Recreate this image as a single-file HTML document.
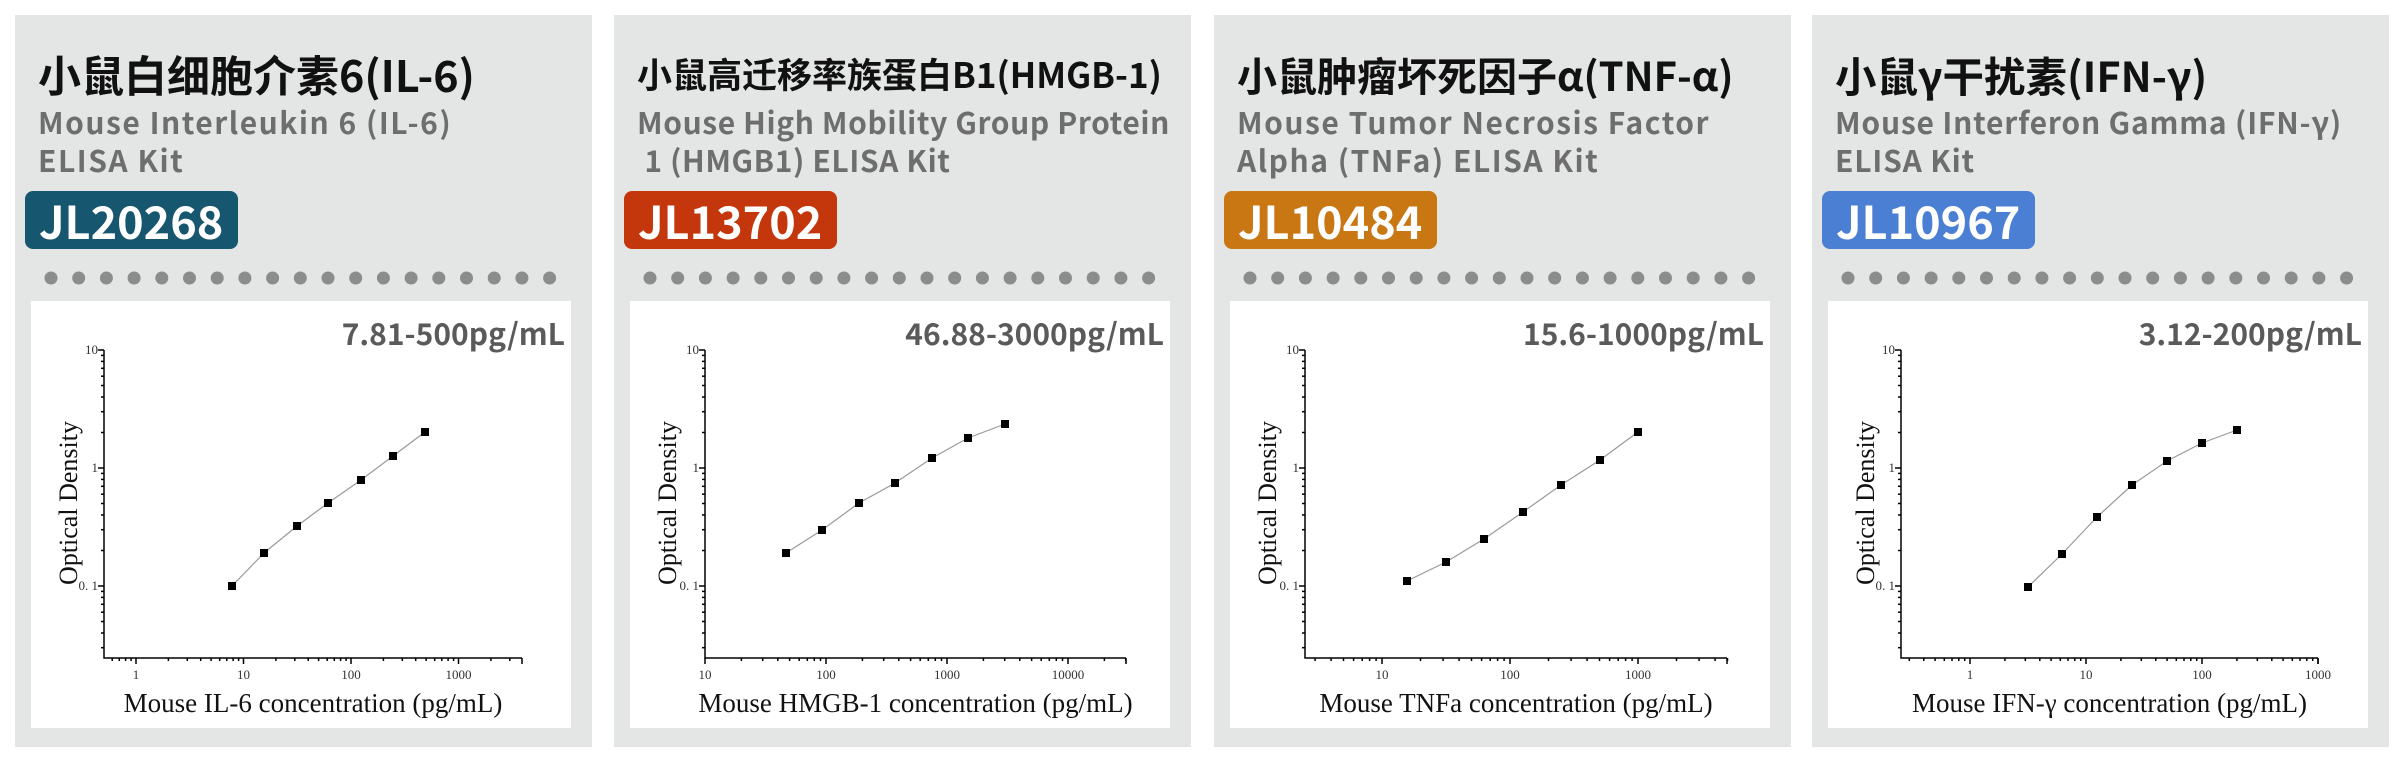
<!DOCTYPE html>
<html><head><meta charset="utf-8"><style>
body{margin:0;width:2400px;height:766px;background:#fff;position:relative;overflow:hidden;font-family:"Liberation Sans","Noto Sans CJK SC",sans-serif}
.card{position:absolute;top:15px;width:577px;height:732px;background:#e3e6e5}
.t{position:absolute;left:23px;top:40px;font-weight:bold;color:#111;white-space:nowrap;font-family:"Noto Sans CJK SC","Liberation Sans",sans-serif}
.s{position:absolute;left:23px;top:87px;font-weight:bold;color:#6e6e6e;font-size:30px;line-height:38px;white-space:pre;font-family:"Noto Sans CJK SC","Liberation Sans",sans-serif;letter-spacing:1.5px}
.b{position:absolute;left:10px;top:176px;width:213px;height:58px;border-radius:8px;color:#fff;font-weight:bold;font-size:45px;line-height:58px;padding-left:14px;box-sizing:border-box;font-family:"Noto Sans CJK SC","Liberation Sans",sans-serif}
svg{position:absolute;left:0;top:0}
</style></head><body>
<div class="card" style="left:15px"><div class="t" style="font-size:43px;top:28px">小鼠白细胞介素6(IL-6)</div><div class="s">Mouse Interleukin 6 (IL-6)
ELISA Kit</div><div class="b" style="background:#17566f">JL20268</div></div>
<div class="card" style="left:614px"><div class="t" style="font-size:35px;top:33px">小鼠高迁移率族蛋白B1(HMGB-1)</div><div class="s" style="letter-spacing:0.6px">Mouse High Mobility Group Protein
 1 (HMGB1) ELISA Kit</div><div class="b" style="background:#c4370c">JL13702</div></div>
<div class="card" style="left:1214px"><div class="t" style="font-size:40px;top:30px">小鼠肿瘤坏死因子α(TNF-α)</div><div class="s">Mouse Tumor Necrosis Factor
Alpha (TNFa) ELISA Kit</div><div class="b" style="background:#c97712">JL10484</div></div>
<div class="card" style="left:1812px"><div class="t" style="font-size:41.5px;top:29px">小鼠γ干扰素(IFN-γ)</div><div class="s" style="letter-spacing:0.8px">Mouse Interferon Gamma (IFN-γ)
ELISA Kit</div><div class="b" style="background:#4b7fd3">JL10967</div></div>
<script>
var P=[
{r:"7.81-500pg/mL",lab:"Mouse IL-6 concentration (pg/mL)",x0:89,x1:507,dec0:0,dpx:121,dw:107.5,ticks:[1,10,100,1000],
 px:[217,249,282,313,346,378,410],py:[586,553,526,503,480,456,432]},
{r:"46.88-3000pg/mL",lab:"Mouse HMGB-1 concentration (pg/mL)",x0:91,x1:512,dec0:1,dpx:91,dw:121,ticks:[10,100,1000,10000],
 px:[172,208,245,281,318,354,391],py:[553,530,503,483,458,438,424]},
{r:"15.6-1000pg/mL",lab:"Mouse TNFa concentration (pg/mL)",x0:91,x1:513,dec0:1,dpx:168,dw:128,ticks:[10,100,1000],
 px:[193,232,270,309,347,386,424],py:[581,562,539,512,485,460,432]},
{r:"3.12-200pg/mL",lab:"Mouse IFN-γ concentration (pg/mL)",x0:89,x1:506,dec0:0,dpx:158,dw:116,ticks:[1,10,100,1000],
 px:[216,250,285,320,355,390,425],py:[587,554,517,485,461,443,430]}];
var cards=document.querySelectorAll('.card');
P.forEach(function(p,i){
 var s='<svg width="577" height="732" xmlns="http://www.w3.org/2000/svg">';
 for(var k=0;k<19;k++)s+='<circle cx="'+(36+k*27.7).toFixed(1)+'" cy="263" r="6.5" fill="#8b8d8d"/>';
 s+='<rect x="16" y="286" width="540" height="427" fill="#fff"/>';
 s+='<text x="550" y="330" text-anchor="end" font-family="Noto Sans CJK SC, Liberation Sans, sans-serif" font-weight="bold" font-size="30" fill="#5a5a5a">'+p.r+'</text>';
 var ax=p.x0, yb=643, yt=335;
 s+='<g stroke="#000" stroke-width="1.5" fill="none"><path d="M'+ax+' '+yt+'V'+yb+'H'+p.x1+'"/>';
 for(var d=-2;d<=1;d++){for(var m=1;m<10;m++){var v=Math.log10(m)+d;var y=453-v*118;if(y<yt-0.5||y>yb)continue;var L=(m==1)?6:3;s+='<path d="M'+ax+' '+y.toFixed(1)+'h-'+L+'"/>';}}
 for(var d=-1;d<=5;d++){for(var m=1;m<10;m++){var v=Math.log10(m)+d-p.dec0;var x=p.dpx+v*p.dw;if(x<ax||x>p.x1+0.5)continue;var L=(m==1)?6:3;s+='<path d="M'+x.toFixed(1)+' '+yb+'v'+L+'"/>';}}
 s+='<path d="M'+p.x1+' '+yb+'v6"/></g>';
 s+='<g font-family="Liberation Serif" font-size="13" fill="#333" text-anchor="end"><text x="'+(ax-6)+'" y="339">10</text><text x="'+(ax-6)+'" y="457">1</text><text x="'+(ax-6)+'" y="575">0. 1</text></g>';
 s+='<g font-family="Liberation Serif" font-size="13" fill="#333" text-anchor="middle">';
 p.ticks.forEach(function(t){var x=p.dpx+(Math.log10(t)-p.dec0)*p.dw;s+='<text x="'+x.toFixed(1)+'" y="664">'+t+'</text>';});
 s+='</g>';
 s+='<text x="'+((ax+p.x1)/2)+'" y="697" text-anchor="middle" font-family="Liberation Serif" font-size="27" fill="#111">'+p.lab+'</text>';
 s+='<text transform="translate(62,488) rotate(-90)" text-anchor="middle" font-family="Liberation Serif" font-size="26" fill="#111">Optical Density</text>';
 var d='M'+p.px[0]+' '+(p.py[0]-15);for(var k=1;k<7;k++)d+=' L'+p.px[k]+' '+(p.py[k]-15);
 s+='<path d="'+d+'" stroke="#999" stroke-width="1.2" fill="none"/>';
 for(var k=0;k<7;k++)s+='<rect x="'+(p.px[k]-4)+'" y="'+(p.py[k]-15-4)+'" width="8" height="8" fill="#000"/>';
 s+='</svg>';
 cards[i].insertAdjacentHTML('afterbegin',s);
});
</script>
</body></html>
